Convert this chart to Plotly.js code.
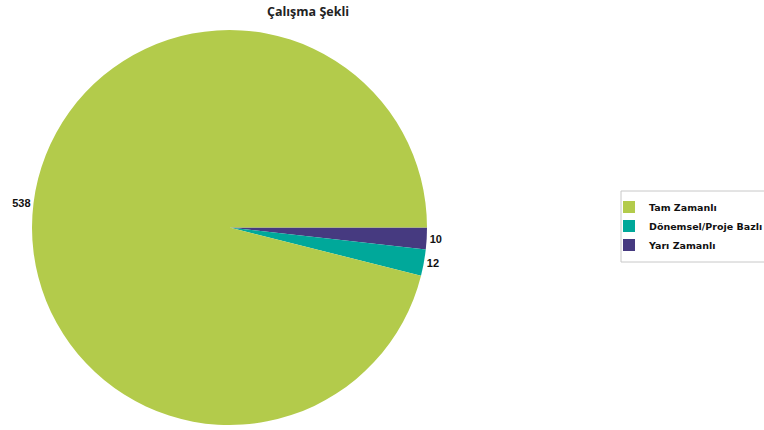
<!DOCTYPE html>
<html>
<head>
<meta charset="utf-8">
<script src="https://cdn.plot.ly/plotly-3.0.1.min.js"></script>
<style>html,body{margin:0;padding:0;background:#fff;}#chart{width:764px;height:430px;}</style>
</head>
<body>
<div id="chart"></div>
<script>
const categories = ["Tam Zamanlı", "Dönemsel/Proje Bazlı", "Yarı Zamanlı"];
const values = [538, 12, 10];
const colors = ["#b3cb4b", "#00a89a", "#463a80"];

const W = 764, H = 430;
// slices are drawn clockwise from 3 o'clock in reverse order; legend is reversed back
const trace = {
  type: "pie",
  labels: categories.slice().reverse(),
  values: values.slice().reverse(),
  sort: false,
  direction: "clockwise",
  rotation: 90,
  marker: {colors: colors.slice().reverse(), line: {width: 0}},
  textposition: "outside",
  texttemplate: "%{value}",
  textfont: {family: "Liberation Sans, Arial, sans-serif", size: 11, color: "#111", weight: "bold"},
  hoverinfo: "label+value",
  domain: {x: [32 / W, 427 / W], y: [1 - 425 / H, 1 - 30 / H]}
};

const layout = {
  width: W, height: H,
  margin: {l: 0, r: 0, t: 0, b: 0, autoexpand: false},
  paper_bgcolor: "#fff",
  title: {
    text: "<b>Çalışma Şekli</b>",
    font: {family: "Open Sans, sans-serif", size: 12.5, color: "#222"},
    x: 308 / W, xanchor: "center", xref: "paper",
    y: 1 - 12 / H, yanchor: "middle", yref: "paper"
  },
  showlegend: true,
  legend: {
    x: 609 / W, xanchor: "left",
    y: 1 - 226 / H, yanchor: "middle",
    borderwidth: 0,
    font: {family: "DejaVu Sans, Verdana, sans-serif", size: 9.5, color: "#111", weight: "bold"},
    bgcolor: "rgba(0,0,0,0)",
    traceorder: "reversed"
  },
  shapes: [{
    type: "rect", xref: "paper", yref: "paper",
    x0: 621 / W, x1: 780 / W, y0: 1 - 262 / H, y1: 1 - 191 / H,
    line: {color: "#c8c8c8", width: 1}, fillcolor: "rgba(0,0,0,0)", layer: "below"
  }]
};

Plotly.newPlot("chart", [trace], layout, {displayModeBar: false, staticPlot: true});
</script>
</body>
</html>
